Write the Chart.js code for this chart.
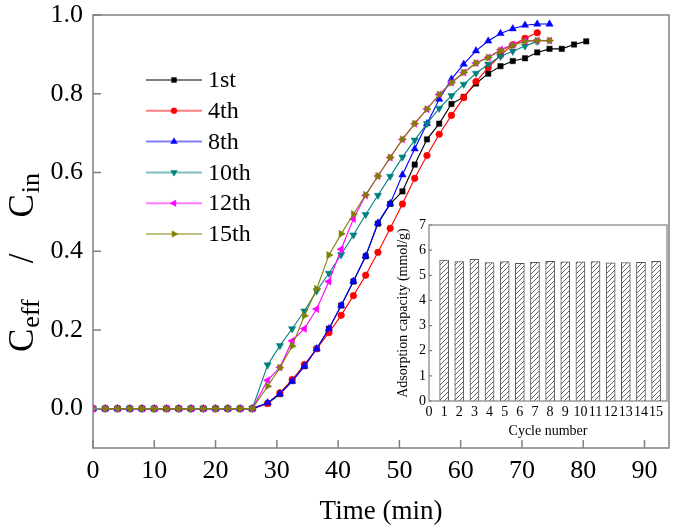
<!DOCTYPE html>
<html><head><meta charset="utf-8">
<script src="https://cdn.jsdelivr.net/npm/chart.js@4/dist/chart.umd.min.js"></script>
<style>
html,body{margin:0;padding:0;background:#fff;}
#wrap{position:relative;width:675px;height:531px;overflow:hidden;}
#main{position:absolute;left:0;top:0;}
#inset{position:absolute;left:395px;top:210px;}
</style></head><body>
<div id="wrap"><canvas id="main" width="675" height="531"></canvas><canvas id="inset" width="280" height="235"></canvas></div>
<script>
// ---------- data ----------
const baseTimes = [0,2,4,6,8,10,12,14,16,18,20,22,24,26];
const riseTimes = [28.5,30.5,32.5,34.5,36.5,38.5,40.5,42.5,44.5,46.5,48.5,50.5,52.5,54.5,56.5,58.5,60.5,62.5,64.5,66.5,68.5,70.5,72.5,74.5,76.5,78.5,80.5];
const baseValues = [0,0,0,0,0,0,0,0,0,0,0,0,0,0];
const seriesNames = ['1st','4th','8th','10th','12th','15th'];
const run1st  = [0.013,0.037,0.070,0.108,0.152,0.203,0.262,0.323,0.387,0.470,0.520,0.552,0.620,0.684,0.724,0.774,0.792,0.826,0.851,0.870,0.883,0.890,0.905,0.914,0.914,0.925,0.933];
const run4th  = [0.013,0.040,0.074,0.112,0.152,0.193,0.237,0.287,0.339,0.397,0.458,0.520,0.585,0.643,0.697,0.745,0.790,0.831,0.866,0.898,0.924,0.941,0.955];
const run8th  = [0.015,0.038,0.070,0.108,0.152,0.203,0.262,0.324,0.388,0.472,0.521,0.594,0.660,0.724,0.786,0.837,0.875,0.909,0.934,0.953,0.965,0.974,0.977,0.977];
const run10th = [0.111,0.160,0.203,0.248,0.299,0.344,0.391,0.441,0.493,0.542,0.590,0.639,0.682,0.724,0.763,0.795,0.824,0.852,0.875,0.895,0.908,0.921,0.933];
const run12th = [0.072,0.105,0.172,0.203,0.253,0.323,0.405,0.482,0.542,0.591,0.638,0.684,0.724,0.761,0.798,0.828,0.854,0.878,0.892,0.912,0.925,0.934,0.935,0.935];
const run15th = [0.057,0.104,0.159,0.236,0.304,0.390,0.444,0.494,0.543,0.591,0.638,0.684,0.724,0.761,0.798,0.828,0.854,0.878,0.892,0.909,0.923,0.933,0.935,0.935];
const xTickValues = [0,10,20,30,40,50,60,70,80,90];
const yTickValues = [0,0.2,0.4,0.6,0.8,1.0];

const cycles   = [1,2,3,4,5,6,7,8,9,10,11,12,13,14,15];
const capacity = [5.60,5.55,5.63,5.51,5.55,5.48,5.52,5.56,5.54,5.54,5.55,5.50,5.51,5.52,5.56];
const insetXTicks = [0,1,2,3,4,5,6,7,8,9,10,11,12,13,14,15];
const insetYTicks = [0,1,2,3,4,5,6,7];

// ---------- styles ----------
const SERIF = "'Liberation Serif','Times New Roman',serif";
const colors = ['#000000','#ff0000','#0000ff','#008080','#ff00ff','#808000'];
const styles = ['rect','circle','triangle','triangle','triangle','triangle'];
const rotations = [0,0,0,180,-90,90];
const radii = [3.8,3.3,4.2,4.2,4.2,4.2];
const runs = [run1st,run4th,run8th,run10th,run12th,run15th];
const allTimes = baseTimes.concat(riseTimes);

const datasets = runs.map((vals,i)=>{
  const ys = baseValues.concat(vals);
  return {
    label: seriesNames[i],
    data: ys.map((v,k)=>({x:allTimes[k], y:v})),
    borderColor: colors[i], backgroundColor: colors[i],
    borderWidth: 1.1, pointStyle: styles[i], pointRotation: rotations[i],
    pointRadius: radii[i], pointBorderWidth: 0.5, tension: 0,
    order: runs.length - i
  };
});

const frameTicks = {
  id:'frameTicks',
  afterDraw(chart, args, opts){
    const {ctx, chartArea:a} = chart;
    const xs = chart.scales.x, ys = chart.scales.y;
    ctx.save();
    ctx.strokeStyle = opts.color; ctx.lineWidth = opts.width;
    ctx.strokeRect(a.left, a.top, a.right-a.left, a.bottom-a.top);
    ctx.beginPath();
    opts.xTicks.forEach(v=>{const p=xs.getPixelForValue(v); ctx.moveTo(p,a.bottom); ctx.lineTo(p,a.bottom-opts.len);});
    opts.yTicks.forEach(v=>{const p=ys.getPixelForValue(v); ctx.moveTo(a.left,p); ctx.lineTo(a.left+opts.len,p);});
    ctx.stroke();
    ctx.restore();
  }
};

const legendPlugin = {
  id:'innerLegend',
  afterDraw(chart){
    const ctx = chart.ctx;
    ctx.save();
    chart.data.datasets.forEach((ds,i)=>{
      const y = 80 + i*30.8;
      ctx.globalAlpha = 0.5;
      ctx.strokeStyle = ds.borderColor; ctx.lineWidth = 2;
      ctx.beginPath(); ctx.moveTo(146,y); ctx.lineTo(202,y); ctx.stroke();
      ctx.globalAlpha = 1;
      ctx.fillStyle = ds.backgroundColor; ctx.strokeStyle = ds.borderColor; ctx.lineWidth = 0.5;
      Chart.helpers.drawPoint(ctx, {pointStyle: ds.pointStyle, rotation: ds.pointRotation, radius: ds.pointRadius*0.9, borderWidth:0.5}, 174, y);
      ctx.fillStyle = '#000';
      ctx.font = "24px " + SERIF;
      ctx.textBaseline = 'middle'; ctx.textAlign = 'left';
      ctx.fillText(ds.label, 208, y+1);
    });
    ctx.restore();
  }
};

const yTitlePlugin = {
  id:'yTitle',
  afterDraw(chart){
    const ctx = chart.ctx;
    ctx.save();
    ctx.translate(33, 352);
    ctx.rotate(-Math.PI/2);
    ctx.fillStyle = '#000';
    ctx.textBaseline = 'alphabetic'; ctx.textAlign = 'left';
    const parts = [
      {t:'C', s:35, dy:0, gap:0},
      {t:'eff', s:26, dy:6, gap:1},
      {t:'/', s:35, dy:0, gap:36},
      {t:'C', s:35, dy:0, gap:36},
      {t:'in', s:26, dy:6, gap:1}
    ];
    let x = 0;
    parts.forEach(p=>{
      x += p.gap;
      ctx.font = p.s + "px " + SERIF;
      ctx.fillText(p.t, x, p.dy);
      x += ctx.measureText(p.t).width;
    });
    ctx.restore();
  }
};

new Chart(document.getElementById('main'), {
  type:'line',
  data:{datasets},
  options:{
    responsive:false, animation:false, devicePixelRatio:1,
    layout:{padding:{top:15,right:6,left:0,bottom:0}},
    plugins:{legend:{display:false}, tooltip:{enabled:false},
      frameTicks:{color:'#808080', width:1.5, len:8, xTicks:xTickValues, yTicks:yTickValues}},
    scales:{
      x:{type:'linear', min:0, max:94,
        afterBuildTicks:s=>{s.ticks = xTickValues.map(v=>({value:v}));},
        afterFit:s=>{s.height=83; s.paddingLeft=0; s.paddingRight=0;},
        grid:{display:false, drawTicks:false}, border:{display:false},
        ticks:{font:{family:SERIF,size:26}, color:'#000', padding:8, maxRotation:0, autoSkip:false},
        title:{display:true, text:'Time (min)', font:{family:SERIF,size:27}, color:'#000', padding:{top:0,bottom:3}}
      },
      y:{type:'linear', min:-0.1, max:1.0,
        afterBuildTicks:s=>{s.ticks = yTickValues.map(v=>({value:v}));},
        afterFit:s=>{s.width=93; s.paddingTop=0; s.paddingBottom=0;},
        grid:{display:false, drawTicks:false}, border:{display:false},
        ticks:{font:{family:SERIF,size:26}, color:'#000', padding:10, callback:v=>Number(v).toFixed(1)}
      }
    }
  },
  plugins:[frameTicks, legendPlugin, yTitlePlugin]
});

// hatch pattern for inset bars
function hatch(){
  const c = document.createElement('canvas'); c.width = 5; c.height = 5;
  const g = c.getContext('2d');
  g.fillStyle = '#fff'; g.fillRect(0,0,5,5);
  g.strokeStyle = '#555'; g.lineWidth = 0.9;
  g.beginPath();
  g.moveTo(0,5); g.lineTo(5,0);
  g.moveTo(-1,1); g.lineTo(1,-1);
  g.moveTo(4,6); g.lineTo(6,4);
  g.stroke();
  return g.createPattern(c,'repeat');
}

new Chart(document.getElementById('inset'), {
  type:'bar',
  data:{datasets:[{
    label:'Adsorption capacity',
    data: cycles.map((c,i)=>({x:c, y:capacity[i]})),
    backgroundColor: hatch(), borderColor:'#555', borderWidth:1, barThickness:9
  }]},
  options:{
    responsive:false, animation:false, devicePixelRatio:1,
    layout:{padding:{top:15,right:8,left:0,bottom:0}},
    plugins:{legend:{display:false}, tooltip:{enabled:false},
      frameTicks:{color:'#808080', width:1.2, len:3, xTicks:[], yTicks:insetYTicks}},
    scales:{
      x:{type:'linear', min:0, max:15.72, offset:false,
        afterBuildTicks:s=>{s.ticks = insetXTicks.map(v=>({value:v}));},
        afterFit:s=>{s.height=44; s.paddingLeft=0; s.paddingRight=0;},
        grid:{display:false, drawTicks:false}, border:{display:false},
        ticks:{font:{family:SERIF,size:14}, color:'#000', padding:3, maxRotation:0, autoSkip:false},
        title:{display:true, text:'Cycle number', font:{family:SERIF,size:14}, color:'#000', padding:{top:0,bottom:5}}
      },
      y:{type:'linear', min:0, max:7,
        afterBuildTicks:s=>{s.ticks = insetYTicks.map(v=>({value:v}));},
        afterFit:s=>{s.width=34; s.paddingTop=0; s.paddingBottom=0;},
        grid:{display:false, drawTicks:false}, border:{display:false},
        ticks:{font:{family:SERIF,size:14}, color:'#000', padding:3},
        title:{display:true, text:'Adsorption capacity (mmol/g)', font:{family:SERIF,size:14}, color:'#000', padding:{top:0,bottom:0}}
      }
    }
  },
  plugins:[frameTicks]
});
</script>
</body></html>
